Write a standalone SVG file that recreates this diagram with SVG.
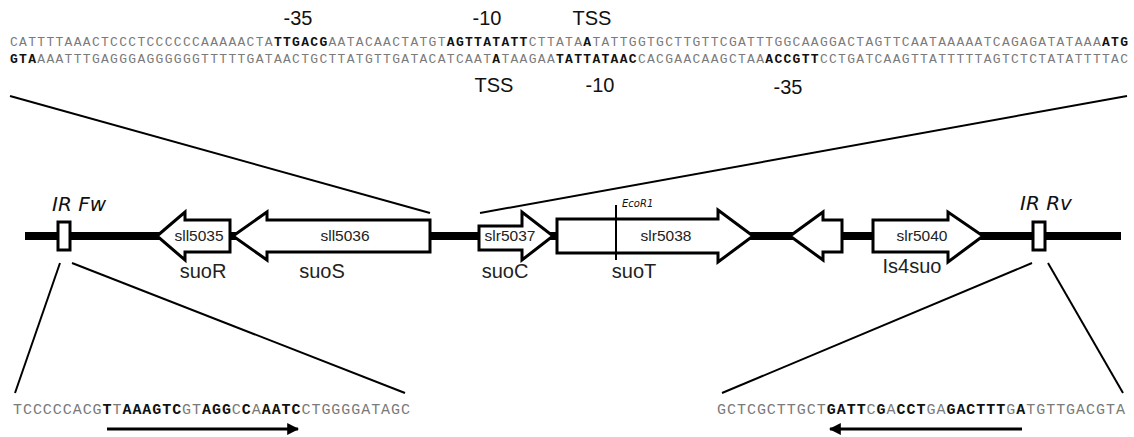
<svg xmlns="http://www.w3.org/2000/svg" width="1134" height="437" viewBox="0 0 1134 437">
<defs>
<style>
.seq{font-family:"Liberation Mono","Courier New",monospace;fill:#7a7a7a}
.top{font-size:13px}
.bot{font-size:15px}
.b{font-weight:bold;fill:#111}
.lbl{font-family:"Liberation Sans",Arial,sans-serif;fill:#111;font-size:20px;text-anchor:middle}
.gene{fill:#fff;stroke:#000;stroke-width:3;stroke-linejoin:miter}
.gname{font-family:"Liberation Sans",Arial,sans-serif;font-size:15.5px;fill:#222;text-anchor:middle}
.alias{font-family:"Liberation Sans",Arial,sans-serif;font-size:20px;fill:#222;text-anchor:middle}
.hand{font-family:"DejaVu Sans",sans-serif;font-style:italic;fill:#111}
.thin{stroke:#000;stroke-width:2;fill:none}
</style>
<marker id="ah" viewBox="0 0 10 10" refX="9" refY="5" markerWidth="4" markerHeight="4" orient="auto-start-reverse">
<path d="M0,0 L10,5 L0,10 z" fill="#000"/>
</marker>
</defs>
<rect width="1134" height="437" fill="#fff"/>

<g id="promoter">
<text class="lbl" x="298" y="25">-35</text>
<text class="lbl" x="487" y="25">-10</text>
<text class="lbl" x="592" y="25">TSS</text>
<text class="seq top" x="10" y="46" textLength="1118" lengthAdjust="spacing">CATTTTAAACTCCCTCCCCCCAAAAACTA<tspan class="b">TTGACG</tspan>AATACAACTATGT<tspan class="b">AGTTATATT</tspan>CTTATA<tspan class="b">A</tspan>TATTGGTGCTTGTTCGATTTGGCAAGGACTAGTTCAATAAAAATCAGAGATATAAA<tspan class="b">ATG</tspan></text>
<text class="seq top" x="10" y="63" textLength="1118" lengthAdjust="spacing"><tspan class="b">GTA</tspan>AAATTTGAGGGAGGGGGGTTTTTGATAACTGCTTATGTTGATACATCAAT<tspan class="b">A</tspan>TAAGAA<tspan class="b">TATTATAAC</tspan>CACGAACAAGCTAA<tspan class="b">ACCGTT</tspan>CCTGATCAAGTTATTTTTAGTCTCTATATTTTAC</text>
<text class="lbl" x="494" y="92">TSS</text>
<text class="lbl" x="600" y="92">-10</text>
<text class="lbl" x="788" y="94">-35</text>
</g>

<g id="connectors">
<line class="thin" x1="10" y1="96" x2="430" y2="213"/>
<line class="thin" x1="480" y1="213" x2="1127" y2="96"/>
<line class="thin" x1="60" y1="263" x2="15" y2="393"/>
<line class="thin" x1="72" y1="263" x2="405" y2="393"/>
<line class="thin" x1="1032" y1="263" x2="722" y2="393"/>
<line class="thin" x1="1048" y1="263" x2="1123" y2="393"/>
</g>

<g id="chromosome">
<line x1="25" y1="236" x2="1121" y2="236" stroke="#000" stroke-width="8"/>
</g>

<g id="IRFw">
<rect class="gene" x="58" y="222" width="12" height="28"/>
<text class="hand" x="52" y="211" font-size="20">IR Fw</text>
</g>

<g id="sll5035">
<polygon class="gene" points="157,236 185,212 185,220 230,220 230,252 185,252 185,260"/>
<text class="gname" x="199" y="241">sll5035</text>
<text class="alias" x="203" y="278">suoR</text>
</g>

<g id="sll5036">
<polygon class="gene" points="233,236 267,212 267,220 430,220 430,252 267,252 267,260"/>
<text class="gname" x="345" y="241">sll5036</text>
<text class="alias" x="322" y="278">suoS</text>
</g>

<g id="slr5037">
<polygon class="gene" points="479,226 522,226 522,212 553,236 522,260 522,250 479,250"/>
<text class="gname" x="510" y="241">slr5037</text>
<text class="alias" x="505" y="278">suoC</text>
</g>

<g id="slr5038">
<polygon class="gene" points="557,219 718,219 718,210 753,236 718,262 718,253 557,253"/>
<text class="gname" x="666" y="241">slr5038</text>
<text class="alias" x="634" y="278">suoT</text>
</g>

<g id="EcoR1">
<line x1="616" y1="205" x2="616" y2="260" stroke="#000" stroke-width="2"/>
<text class="hand" x="622" y="207" font-size="10">EcoR1</text>
</g>

<g id="orf">
<polygon class="gene" points="790,236 823,212 823,220 842,220 842,252 823,252 823,260"/>
</g>

<g id="slr5040">
<polygon class="gene" points="873,220 948,220 948,212 983,236 948,262 948,252 873,252"/>
<text class="gname" x="922" y="241">slr5040</text>
<text class="alias" x="912" y="273">Is4suo</text>
</g>

<g id="IRRv">
<rect class="gene" x="1033" y="222" width="12" height="28"/>
<text class="hand" x="1020" y="210" font-size="20">IR Rv</text>
</g>

<g id="IRseqFw">
<text class="seq bot" x="13" y="414" textLength="397" lengthAdjust="spacing">TCCCCCACG<tspan class="b">T</tspan>T<tspan class="b">AAAGTC</tspan>GT<tspan class="b">AGG</tspan>C<tspan class="b">C</tspan>A<tspan class="b">AATC</tspan>CTGGGGATAGC</text>
<line x1="107" y1="429" x2="298" y2="429" stroke="#000" stroke-width="3" marker-end="url(#ah)"/>
</g>

<g id="IRseqRv">
<text class="seq bot" x="717" y="414" textLength="408" lengthAdjust="spacing">GCTCGCTTGCT<tspan class="b">GATT</tspan>C<tspan class="b">G</tspan>A<tspan class="b">CCT</tspan>GA<tspan class="b">GACTTT</tspan>G<tspan class="b">A</tspan>TGTTGACGTA</text>
<line x1="1022" y1="429" x2="830" y2="429" stroke="#000" stroke-width="3" marker-end="url(#ah)"/>
</g>
</svg>
